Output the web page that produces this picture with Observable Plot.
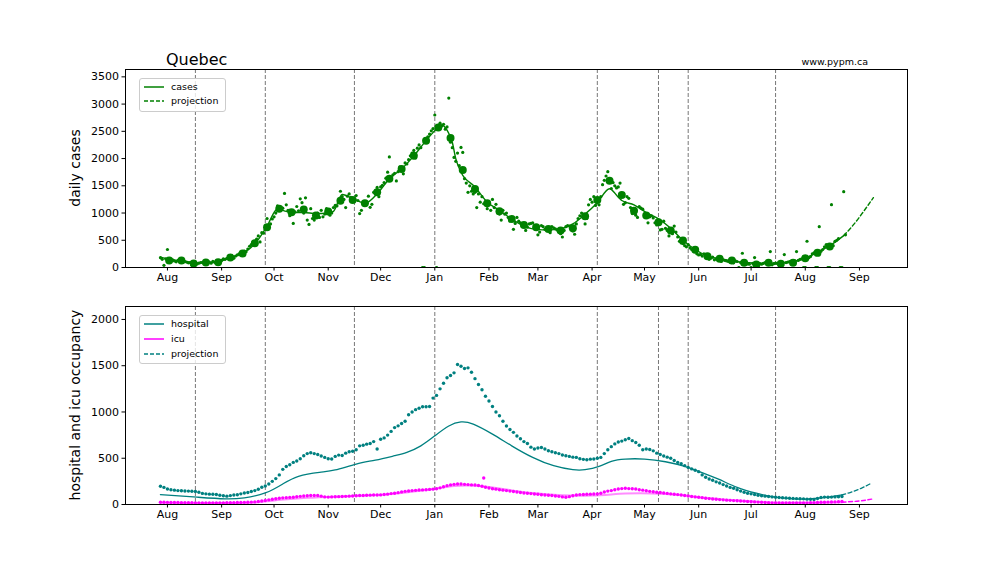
<!DOCTYPE html>
<html><head><meta charset="utf-8">
<script src="https://cdn.jsdelivr.net/npm/d3@7"></script>
<script src="https://cdn.jsdelivr.net/npm/@observablehq/plot@0.6"></script>
<style>
body{margin:0;background:#fff;font-family:"DejaVu Sans",sans-serif;}
#wrap{position:relative;width:1008px;height:576px;overflow:hidden;background:#fff;}
#wrap svg{position:absolute;left:0;}
</style></head><body><div id="wrap"></div><script>
// ---------- data ----------
const casesStart = "2020-07-28";
const casesDaily = [
180,150,40,160,
330,120,110,140,120,105,130,150,120,95,110,100,85,90,70,60,75,65,80,90,95,75,110,85,100,80,115,95,90,120,105,
130,160,150,170,180,200,190,170,210,230,250,260,290,300,290,340,390,420,470,460,520,580,470,640,630,700,900,750,800,890,
930,1000,1130,1080,1060,1090,1360,1150,1050,950,1000,810,1020,1120,1040,1260,1190,1000,1280,870,790,1080,900,870,950,1000,920,1050,930,980,1080,
1030,960,1000,1100,1140,1130,1200,1400,1300,1250,1100,1310,1350,1290,1270,1240,1320,1230,990,1050,1200,1150,1180,1310,1105,1160,1380,1400,1470,1300,
1480,1510,1560,1640,1750,2030,1650,1700,1730,1590,1760,1850,1840,1720,1920,1900,1980,2050,2100,2150,2010,2190,2250,2200,0,0,2300,2400,2450,2510,2550,
2800,0,2600,2650,2600,2630,2540,2580,3110,2300,2200,2020,1950,2100,1870,2205,2113,1630,1550,1380,1500,1400,1350,1380,1100,1350,1200,1300,1170,1150,1080,
1180,1050,1250,1100,1160,1000,980,870,1050,980,1000,920,850,890,700,810,920,850,820,760,770,680,740,800,810,820,760,700,
600,650,770,750,700,710,720,640,750,730,710,690,650,620,560,680,750,770,760,720,670,610,800,900,950,1000,960,800,900,1150,1250,
1200,1300,1140,1240,1150,1300,1520,1600,1680,1760,1580,1450,1560,1500,1460,1480,1550,1340,1160,1190,1300,1270,1100,990,1000,960,920,1120,1090,1070,
980,970,820,930,950,910,820,780,800,690,700,850,720,680,580,700,620,760,650,560,480,450,440,400,380,420,360,330,310,290,250,
230,240,210,250,200,180,150,170,190,140,160,155,130,110,140,130,120,110,100,90,85,120,110,0,90,262,80,70,65,60,
0,75,183,50,40,70,60,75,90,80,60,293,50,70,80,75,60,50,70,238,90,100,110,70,60,120,293,130,150,160,0,
0,482,180,200,250,270,0,0,750,300,330,380,420,0,0,1154,400,480,500,530,0,0,1392,600
];
const weeklyStart = "2020-08-02";
const casesWeekly = [128,128,73,92,97, 183,256,445,738, 1080,1013,1063,953, 1026,1227,1240,1178,1380,
 1630,1808,2051,2326, 2571,2376,1790,1442,1178, 1032,892,782,738, 708,678,720,940, 1240,1594,1332,1044,
 953,830,678,495,324, 207,159,128,86, 55,86,68,86, 170,269,385];
const caseModelDates = ["2020-07-28","2020-08-04","2020-08-11","2020-08-18","2020-08-25","2020-09-01","2020-09-06","2020-09-13","2020-09-20","2020-09-27","2020-10-03","2020-10-08","2020-10-11","2020-10-18","2020-10-25","2020-11-01","2020-11-04","2020-11-09","2020-11-16","2020-11-22","2020-11-30","2020-12-06","2020-12-13","2020-12-20","2020-12-27","2021-01-01","2021-01-05","2021-01-08","2021-01-11","2021-01-13","2021-01-16","2021-01-24","2021-01-31","2021-02-07","2021-02-14","2021-02-21","2021-02-28","2021-03-07","2021-03-14","2021-03-21","2021-03-28","2021-04-04","2021-04-11","2021-04-16","2021-04-18","2021-04-25","2021-05-02","2021-05-09","2021-05-16","2021-05-23","2021-05-30","2021-06-06","2021-06-13","2021-06-20","2021-06-27","2021-07-04","2021-07-11","2021-07-18","2021-07-25","2021-08-01","2021-08-08","2021-08-15","2021-08-23"];
const caseModelValues = [190,140,110,85,90,120,180,260,430,760,1075,1030,1010,1010,990,1000,1030,1340,1250,1180,1390,1630,1810,2050,2330,2510,2615,2520,2300,2000,1750,1480,1200,1050,890,760,700,690,710,800,980,1190,1447,1290,1230,1150,1010,892,720,500,330,210,160,120,95,80,80,85,110,170,280,400,586];
const caseProjDates = ["2021-08-23","2021-08-29","2021-09-03","2021-09-09"];
const caseProjValues = [586,800,1013,1282];

const hospStart = "2020-07-28"; // one value every 2 days
const hospital = [
197,185,168,160,155,150,148,146,145,143,
140,133,120,115,112,110,108,100,94,90,
96,102,106,115,125,130,140,150,165,186,
200,222,250,280,320,380,410,430,455,470,
495,527,550,560,550,540,525,509,495,491,
520,534,530,555,570,575,591,634,640,652,
660,680,600,706,720,750,790,831,850,875,
900,970,1000,1025,1040,1057,1057,1060,1150,1179,
1250,1310,1370,1395,1423,1513,1495,1470,1477,1430,
1360,1297,1240,1170,1118,1060,1000,960,900,849,
810,780,740,710,680,660,620,600,610,616,
600,581,570,560,550,535,527,520,512,509,
495,488,484,490,491,500,509,550,591,625,
655,675,685,700,713,690,670,640,591,600,
595,580,555,540,525,512,500,475,455,440,
420,401,385,370,355,320,295,275,262,245,
232,215,200,185,175,160,145,132,122,115,
108,100,95,90,86,82,78,76,73,70,
68,66,64,62,61,58,56,54,65,75,
80,78,80,82,84,86];
const icu = [
25,24,23,22,22,21,20,20,19,19,
18,18,17,17,18,18,17,18,18,19,
20,20,21,22,23,24,26,28,32,38,
43,50,56,62,68,72,74,77,79,83,
88,92,95,98,97,97,90,82,80,82,
84,85,86,88,90,92,95,97,98,100,
101,102,103,104,108,112,118,122,128,136,
142,146,150,153,156,158,160,163,166,170,
180,192,204,212,218,222,222,218,215,212,
210,205,198,186,178,170,166,160,155,150,
145,140,135,130,125,122,118,114,110,106,
102,100,97,92,88,82,79,85,95,102,
107,108,110,112,113,115,122,135,145,150,
160,168,172,175,172,170,168,160,155,148,
142,138,133,130,125,120,115,110,107,102,
97,92,87,82,79,74,68,64,60,56,
53,50,47,45,42,40,38,36,33,30,
28,26,24,21,19,18,18,17,17,17,
18,18,18,18,18,18,19,20,22,24,
25,26,27,28,30,32];
const icuSpikeDate = "2021-01-29", icuSpikeValue = 287;

const hospModelDates = ["2020-07-28","2020-08-18","2020-09-03","2020-09-14","2020-09-26","2020-10-06","2020-10-15","2020-10-27","2020-11-05","2020-11-17","2020-11-28","2020-12-09","2020-12-16","2020-12-24","2021-01-01","2021-01-09","2021-01-16","2021-01-23","2021-02-03","2021-02-14","2021-02-26","2021-03-10","2021-03-21","2021-03-28","2021-04-05","2021-04-12","2021-04-20","2021-05-01","2021-05-13","2021-05-24","2021-06-01","2021-06-12","2021-06-23","2021-07-04","2021-07-15","2021-07-26","2021-08-03","2021-08-14","2021-08-22"];
const hospModelValues = [107,79,61,72,125,222,305,348,373,437,480,527,563,634,742,849,892,868,760,634,509,419,376,376,412,466,491,491,462,412,358,276,186,122,79,61,61,79,104];
const hospProjDates = ["2021-08-22","2021-08-27","2021-09-02","2021-09-08"];
const hospProjValues = [104,132,175,233];
const icuModelDates = ["2020-07-28","2020-08-15","2020-09-05","2020-09-20","2020-10-05","2020-10-20","2020-11-05","2020-11-20","2020-12-05","2020-12-20","2021-01-01","2021-01-12","2021-01-22","2021-02-01","2021-02-15","2021-03-01","2021-03-15","2021-04-01","2021-04-20","2021-05-05","2021-05-20","2021-06-05","2021-06-20","2021-07-05","2021-07-20","2021-08-05","2021-08-22"];
const icuModelValues = [20,17,15,22,50,72,85,95,110,140,170,200,205,188,150,118,100,98,118,120,105,72,48,30,20,18,25];
const icuProjDates = ["2021-08-22","2021-09-01","2021-09-08"];
const icuProjValues = [25,38,58];

const eventDates = ["2020-08-17","2020-09-26","2020-11-16","2021-01-01","2021-04-04","2021-05-09","2021-05-26","2021-07-15"];
const monthTicks = ["2020-08-01","2020-09-01","2020-10-01","2020-11-01","2020-12-01","2021-01-01","2021-02-01","2021-03-01","2021-04-01","2021-05-01","2021-06-01","2021-07-01","2021-08-01","2021-09-01"];
const monthLabels = ["Aug","Sep","Oct","Nov","Dec","Jan","Feb","Mar","Apr","May","Jun","Jul","Aug","Sep"];
const casesTicks = [0,500,1000,1500,2000,2500,3000,3500];
const hospTicks = [0,500,1000,1500,2000];

// ---------- build tables ----------
const P = s => new Date(s);
const seq = (start, vals, step) => vals.map((v,i) => ({date: d3.utcDay.offset(P(start), i*step), value: v}));
const zipDV = (ds, vs) => ds.map((d,i) => ({date: P(d), value: vs[i]}));
const casesPts = seq(casesStart, casesDaily, 1);
const weeklyPts = seq(weeklyStart, casesWeekly, 7);
const caseModel = zipDV(caseModelDates, caseModelValues);
const caseProj = zipDV(caseProjDates, caseProjValues);
const hospPts = seq(hospStart, hospital, 2);
const icuPts = seq(hospStart, icu, 2).concat([{date: P(icuSpikeDate), value: icuSpikeValue}]);
const hospModel = zipDV(hospModelDates, hospModelValues);
const hospProj = zipDV(hospProjDates, hospProjValues);
const icuModel = zipDV(icuModelDates, icuModelValues);
const icuProj = zipDV(icuProjDates, icuProjValues);
const events = eventDates.map(P);
const ticksX = monthTicks.map(P);
const labelOf = new Map(ticksX.map((d,i) => [+d, monthLabels[i]]));

const GREEN = "#008000", TEAL = "#008080", MAG = "#ff00ff";
const xDomain = [P("2020-07-08"), new Date(Date.UTC(2021,8,28,12))];
const common = {
  width: 1008, height: 288, marginLeft: 125, marginRight: 101,
  style: {fontFamily: "DejaVu Sans, sans-serif", fontSize: "11px", color: "#000", background: "transparent", overflow: "visible"},
  x: {type: "utc", domain: xDomain},
};
const axes = (yt) => [
  Plot.axisX(ticksX, {tickFormat: d => labelOf.get(+d), tickSize: 3.5, tickPadding: 2.5, fontSize: 11, label: null}),
  Plot.axisY(yt, {tickFormat: d => String(d), tickSize: 3.5, tickPadding: 3, fontSize: 11, label: null}),
];
const vlines = Plot.ruleX(events, {stroke: "#777", strokeWidth: 1, strokeDasharray: "4,2"});

const topPlot = Plot.plot({
  ...common, marginTop: 69, marginBottom: 21,
  y: {domain: [0, 3635]},
  marks: [
    vlines,
    Plot.dot(casesPts, {x: "date", y: "value", r: 1.6, fill: GREEN, clip: true}),
    Plot.line(caseModel, {x: "date", y: "value", stroke: GREEN, strokeWidth: 1.4, curve: "monotone-x"}),
    Plot.line(caseProj, {x: "date", y: "value", stroke: GREEN, strokeWidth: 1.4, strokeDasharray: "4,2.5", curve: "monotone-x"}),
    Plot.dot(weeklyPts, {x: "date", y: "value", r: 4, fill: GREEN, clip: true}),
    ...axes(casesTicks),
    Plot.frame({stroke: "#000", strokeWidth: 1}),
  ]
});
topPlot.style.top = "0px";

const bottomPlot = Plot.plot({
  ...common, marginTop: 18, marginBottom: 72,
  y: {domain: [0, 2140]},
  marks: [
    vlines,
    Plot.line(icuModel, {x: "date", y: "value", stroke: MAG, strokeOpacity: 0.45, strokeWidth: 2, curve: "natural"}),
    Plot.line(icuProj, {x: "date", y: "value", stroke: MAG, strokeWidth: 1.4, strokeDasharray: "4,2.5", curve: "natural"}),
    Plot.dot(hospPts, {x: "date", y: "value", r: 1.7, fill: TEAL}),
    Plot.dot(icuPts, {x: "date", y: "value", r: 1.7, fill: MAG}),
    Plot.line(hospModel, {x: "date", y: "value", stroke: TEAL, strokeWidth: 1.3, curve: "natural"}),
    Plot.line(hospProj, {x: "date", y: "value", stroke: TEAL, strokeWidth: 1.3, strokeDasharray: "4,2.5", curve: "natural"}),
    ...axes(hospTicks),
    Plot.frame({stroke: "#000", strokeWidth: 1}),
  ]
});
bottomPlot.style.top = "288px";

const wrap = document.getElementById("wrap");
wrap.append(topPlot, bottomPlot);

// ---------- overlay text / legends ----------
const ov = d3.create("svg").attr("width", 1008).attr("height", 576)
  .style("top", "0px").style("font-family", "DejaVu Sans, sans-serif");
ov.append("text").attr("x", 166).attr("y", 65).attr("font-size", 16).attr("fill", "#000").text("Quebec");
ov.append("text").attr("x", 868).attr("y", 64.5).attr("font-size", 9.5).attr("text-anchor", "end").attr("fill", "#000").text("www.pypm.ca");
ov.append("text").attr("transform", "translate(80,168) rotate(-90)").attr("font-size", 14).attr("text-anchor", "middle").text("daily cases");
ov.append("text").attr("transform", "translate(80,405) rotate(-90)").attr("font-size", 14).attr("text-anchor", "middle").text("hospital and icu occupancy");

function legend(y0, h, items) {
  const g = ov.append("g");
  g.append("rect").attr("x", 139.5).attr("y", y0 + 0.5).attr("width", 86).attr("height", h).attr("rx", 2.5)
    .attr("fill", "#fff").attr("fill-opacity", 0.8).attr("stroke", "#ccc");
  items.forEach((it, i) => {
    const y = y0 + 9 + i * it.step;
    g.append("line").attr("x1", 144).attr("x2", 164).attr("y1", y).attr("y2", y)
      .attr("stroke", it.color).attr("stroke-width", 1.5).attr("stroke-dasharray", it.dash || null);
    g.append("text").attr("x", 171).attr("y", y + 3.4).attr("font-size", 9.5).attr("fill", "#000").text(it.label);
  });
}
legend(78, 33, [
  {label: "cases", color: GREEN, step: 14},
  {label: "projection", color: GREEN, dash: "4,2", step: 14}]);
legend(315, 48, [
  {label: "hospital", color: TEAL, step: 15},
  {label: "icu", color: MAG, step: 15},
  {label: "projection", color: TEAL, dash: "4,2", step: 15}]);
wrap.append(ov.node());
</script></body></html>
